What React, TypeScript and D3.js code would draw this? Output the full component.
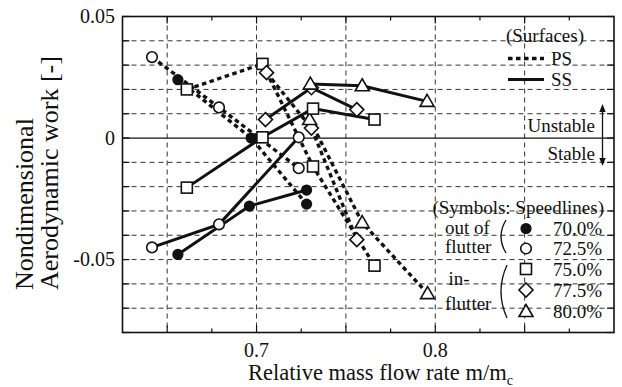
import React from "react";
import * as d3 from "d3";

// ---- Data ----
const speedlines = ["70.0%", "72.5%", "75.0%", "77.5%", "80.0%"];
const symbols = ["filled", "circle", "square", "diamond", "triangle"];

// [massFlow, work]
const ps70 = [[0.656, 0.024], [0.697, 0.0], [0.728, -0.0272]];
const ss70 = [[0.656, -0.0479], [0.696, -0.028], [0.728, -0.0214]];
const ps72 = [[0.6415, 0.0333], [0.679, 0.0126], [0.7236, -0.0124]];
const ss72 = [[0.6415, -0.045], [0.679, -0.0355], [0.7236, 0.0003]];
const ps75 = [[0.661, 0.020], [0.7033, 0.0305], [0.7316, -0.0117], [0.766, -0.0525]];
const ss75 = [[0.661, -0.0204], [0.7033, 0.0003], [0.7316, 0.0121], [0.766, 0.0076]];
const ps77 = [[0.7056, 0.0269], [0.7307, 0.0041], [0.7561, -0.0418]];
const ss77 = [[0.705, 0.0076], [0.7307, 0.0207], [0.7561, 0.0117]];
const ps80 = [[0.7297, 0.0076], [0.7591, -0.0348], [0.7957, -0.064]];
const ss80 = [[0.7301, 0.0222], [0.7591, 0.0215], [0.7954, 0.0151]];

const psSeries = [ps70, ps72, ps75, ps77, ps80];
const ssSeries = [ss70, ss72, ss75, ss77, ss80];

const xTickLabels = [0.7, 0.8];
const yTickLabels = [0.05, 0, -0.05];

const W = 622;
const H = 387;
const L = 122.5, R = 614, T = 16.5, B = 332.5;
const FONT = '"Liberation Serif", "Times New Roman", "DejaVu Serif", serif';

const x = d3.scaleLinear().domain([0.625, 0.9]).range([L, R]);
const y = d3.scaleLinear().domain([-0.08, 0.05]).range([B, T]);

function Marker({ type, cx, cy }: { type: string; cx: number; cy: number }) {
  const sw = 1.6;
  if (type === "filled") return <circle cx={cx} cy={cy} r={5.6} fill="#111" />;
  if (type === "circle")
    return <circle cx={cx} cy={cy} r={5.3} fill="#fff" stroke="#111" strokeWidth={sw} />;
  if (type === "square")
    return <rect x={cx - 5.5} y={cy - 5.5} width={11} height={11} fill="#fff" stroke="#111" strokeWidth={sw} />;
  if (type === "diamond")
    return (
      <path d={`M${cx},${cy - 7}L${cx + 7},${cy}L${cx},${cy + 7}L${cx - 7},${cy}Z`} fill="#fff" stroke="#111" strokeWidth={sw} />
    );
  return (
    <path d={`M${cx},${cy - 7}L${cx + 7},${cy + 5}L${cx - 7},${cy + 5}Z`} fill="#fff" stroke="#111" strokeWidth={sw} />
  );
}

export default function App() {
  const line = d3
    .line<number[]>()
    .x((d) => x(d[0]))
    .y((d) => y(d[1]));

  const gridX = d3.range(0.65, 0.86, 0.05);
  const gridY = d3.range(-7, 5).map((v) => v / 100).filter((v) => Math.abs(v) > 1e-9);
  const minorX = d3.range(0.675, 0.9, 0.05);

  const legendRows = speedlines.map((s, i) => ({ label: s, sym: symbols[i], yb: [235, 255, 275.5, 296.5, 318][i] }));
  const ts = { fontFamily: FONT };

  return (
    <svg width={W} height={H} style={{ position: "absolute", left: 0, top: 0, background: "#fff", fontFamily: FONT }}>
      <rect width={W} height={H} fill="#fff" />
      {/* grid */}
      <g stroke="#333" strokeWidth={1} strokeDasharray="5,4">
        {gridX.map((v) => (
          <line key={"gx" + v} x1={x(v)} x2={x(v)} y1={T} y2={B} />
        ))}
        {gridY.map((v) => (
          <line key={"gy" + v} x1={L} x2={R} y1={y(v)} y2={y(v)} />
        ))}
      </g>
      <line x1={L} x2={R} y1={y(0)} y2={y(0)} stroke="#111" strokeWidth={1.3} />
      {/* ticks */}
      <g stroke="#111" strokeWidth={1.2}>
        {gridX.map((v) => (
          <g key={"tx" + v}>
            <line x1={x(v)} x2={x(v)} y1={B} y2={B - 7} />
            <line x1={x(v)} x2={x(v)} y1={T} y2={T + 7} />
          </g>
        ))}
        {minorX.map((v) => (
          <g key={"mx" + v}>
            <line x1={x(v)} x2={x(v)} y1={B} y2={B - 4} />
            <line x1={x(v)} x2={x(v)} y1={T} y2={T + 4} />
          </g>
        ))}
        {d3.range(-8, 6).map((k) => (
          <g key={"ty" + k}>
            <line x1={L} x2={L + 7} y1={y(k / 100)} y2={y(k / 100)} />
            <line x1={R} x2={R - 7} y1={y(k / 100)} y2={y(k / 100)} />
          </g>
        ))}
      </g>
      {/* data lines */}
      {psSeries.map((s, i) => (
        <path key={"ps" + i} d={line(s as any) || ""} fill="none" stroke="#111" strokeWidth={3.4} strokeDasharray="4.5,3.5" />
      ))}
      {ssSeries.map((s, i) => (
        <path key={"ss" + i} d={line(s as any) || ""} fill="none" stroke="#111" strokeWidth={3} />
      ))}
      {/* markers */}
      {psSeries.map((s, i) =>
        s.map((d, j) => <Marker key={`pm${i}-${j}`} type={symbols[i]} cx={x(d[0])} cy={y(d[1])} />)
      )}
      {ssSeries.map((s, i) =>
        s.map((d, j) => <Marker key={`sm${i}-${j}`} type={symbols[i]} cx={x(d[0])} cy={y(d[1])} />)
      )}
      {/* frame */}
      <rect x={L} y={T} width={R - L} height={B - T} fill="none" stroke="#111" strokeWidth={1.6} />
      {/* tick labels */}
      <g fontSize={20} fill="#111" style={ts}>
        {xTickLabels.map((v) => (
          <text key={"xl" + v} x={x(v)} y={357} textAnchor="middle" style={ts}>
            {d3.format(".1f")(v)}
          </text>
        ))}
        {yTickLabels.map((v) => (
          <text key={"yl" + v} x={115} y={y(v) + 6.5} textAnchor="end" style={ts}>
            {v === 0 ? "0" : d3.format(".2f")(v).replace("−", "-")}
          </text>
        ))}
      </g>
      {/* axis titles */}
      <text x={248} y={380} fontSize={22.5} fill="#111" style={ts}>
        Relative mass flow rate m/m
        <tspan fontSize={14} dy={5}>c</tspan>
      </text>
      <g fontSize={26} fill="#111" style={ts}>
        <text transform="translate(33,290) rotate(-90)" style={ts}>Nondimensional</text>
        <text transform="translate(58,290) rotate(-90)" style={ts}>Aerodynamic work [-]</text>
      </g>
      {/* surfaces legend */}
      <g fontSize={19} fill="#111" style={ts}>
        <text x={545} y={42} textAnchor="middle" style={ts}>(Surfaces)</text>
        <line x1={508} x2={544} y1={58.5} y2={58.5} stroke="#111" strokeWidth={3.4} strokeDasharray="4.5,3.5" />
        <text x={551} y={65} style={ts}>PS</text>
        <line x1={508} x2={544} y1={79.5} y2={79.5} stroke="#111" strokeWidth={3} />
        <text x={551} y={86} style={ts}>SS</text>
        <text x={595} y={131.5} textAnchor="end" style={ts}>Unstable</text>
        <text x={595} y={160} textAnchor="end" style={ts}>Stable</text>
      </g>
      {/* stability arrow */}
      <line x1={602.5} x2={602.5} y1={108} y2={162} stroke="#111" strokeWidth={1.3} />
      <path d="M602.5,104L599.3,112L605.7,112Z" fill="#111" />
      <path d="M602.5,166L599.3,158L605.7,158Z" fill="#111" />
      {/* symbols legend */}
      <g fontSize={19} fill="#111" style={ts}>
        <text x={604} y={213.5} textAnchor="end" style={ts}>(Symbols: Speedlines)</text>
        <text x={445} y={233.5} style={ts}>out of</text>
        <text x={445} y={252.5} style={ts}>flutter</text>
        <text x={459} y={284.5} textAnchor="middle" style={ts}>in-</text>
        <text x={445} y={309.5} style={ts}>flutter</text>
        {legendRows.map((r) => (
          <text key={r.label} x={602} y={r.yb} textAnchor="end" style={ts}>{r.label}</text>
        ))}
      </g>
      {legendRows.map((r) => (
        <Marker key={"lm" + r.label} type={r.sym} cx={526} cy={r.yb - 6.5} />
      ))}
      <path d="M506,220 Q496,236.5 506,253" fill="none" stroke="#111" strokeWidth={1.3} />
      <path d="M507,265 Q495,291.5 507,318" fill="none" stroke="#111" strokeWidth={1.3} />
    </svg>
  );
}
